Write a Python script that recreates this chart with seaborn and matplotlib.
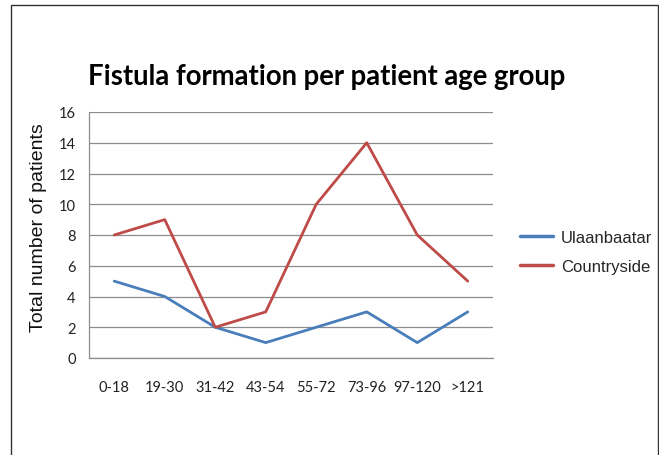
import pandas as pd
import matplotlib
matplotlib.use('Agg')
import matplotlib.pyplot as plt
import seaborn as sns
from matplotlib.patches import Rectangle

# data
age_groups = ['0-18', '19-30', '31-42', '43-54', '55-72', '73-96', '97-120', '>121']
ulaanbaatar = [5, 4, 2, 1, 2, 3, 1, 3]
countryside = [8, 9, 2, 3, 10, 14, 8, 5]
series_names = ['Ulaanbaatar', 'Countryside']
colors = ['#4A7EBB', '#BE4B48']

df = pd.DataFrame({
    'age': age_groups * 2,
    'patients': ulaanbaatar + countryside,
    'region': [series_names[0]] * len(age_groups) + [series_names[1]] * len(age_groups),
})

sns.set_theme(style='white')
plt.rcParams['font.family'] = ['Lato', 'DejaVu Sans']

W, H = 659, 456
fig = plt.figure(figsize=(W / 100, H / 100), dpi=100)
ax = fig.add_axes([89 / W, 1 - 359 / H, (493 - 89) / W, (359 - 113) / H])

sns.lineplot(data=df, x='age', y='patients', hue='region', palette=colors,
             sort=False, linewidth=2.0, ax=ax, legend=True)

ax.set_xlim(-0.5, len(age_groups) - 0.5)
ax.set_ylim(0, 16)
ax.set_yticks(range(0, 17, 2))
ax.yaxis.grid(True, color='#8c8c8c', linewidth=0.9)
ax.set_axisbelow(True)
for side in ['top', 'right']:
    ax.spines[side].set_visible(False)
for side in ['left', 'bottom']:
    ax.spines[side].set_color('#8c8c8c')
    ax.spines[side].set_linewidth(0.9)
ax.tick_params(axis='both', length=0, labelsize=10.5, colors='#222222')
ax.tick_params(axis='y', pad=9.5)
ax.tick_params(axis='x', pad=16)
ax.set_xlabel('')
ax.set_ylabel('Total number of patients', family=['Liberation Sans', 'DejaVu Sans'],
              fontsize=14, color='#111111')
ax.yaxis.set_label_coords(-0.104, 0.535)

leg = ax.legend(loc='center left', bbox_to_anchor=(1.03, 0.43), frameon=False,
                prop={'family': 'Liberation Sans', 'size': 12},
                handlelength=2.0, handletextpad=0.45, labelspacing=0.85)
for line in leg.get_lines():
    line.set_linewidth(2.5)

fig.text(327 / W, 1 - 77 / H, 'Fistula formation per patient age group',
         ha='center', va='center', fontsize=19.8, fontweight='bold', color='#000000')

# chart area border
fig.patches.append(Rectangle((11 / W, -0.1), (658 - 11) / W, (1 - 6 / H) + 0.1,
                             transform=fig.transFigure, fill=False,
                             edgecolor='#333333', linewidth=1.0))

fig.savefig('out.png', dpi=100)
